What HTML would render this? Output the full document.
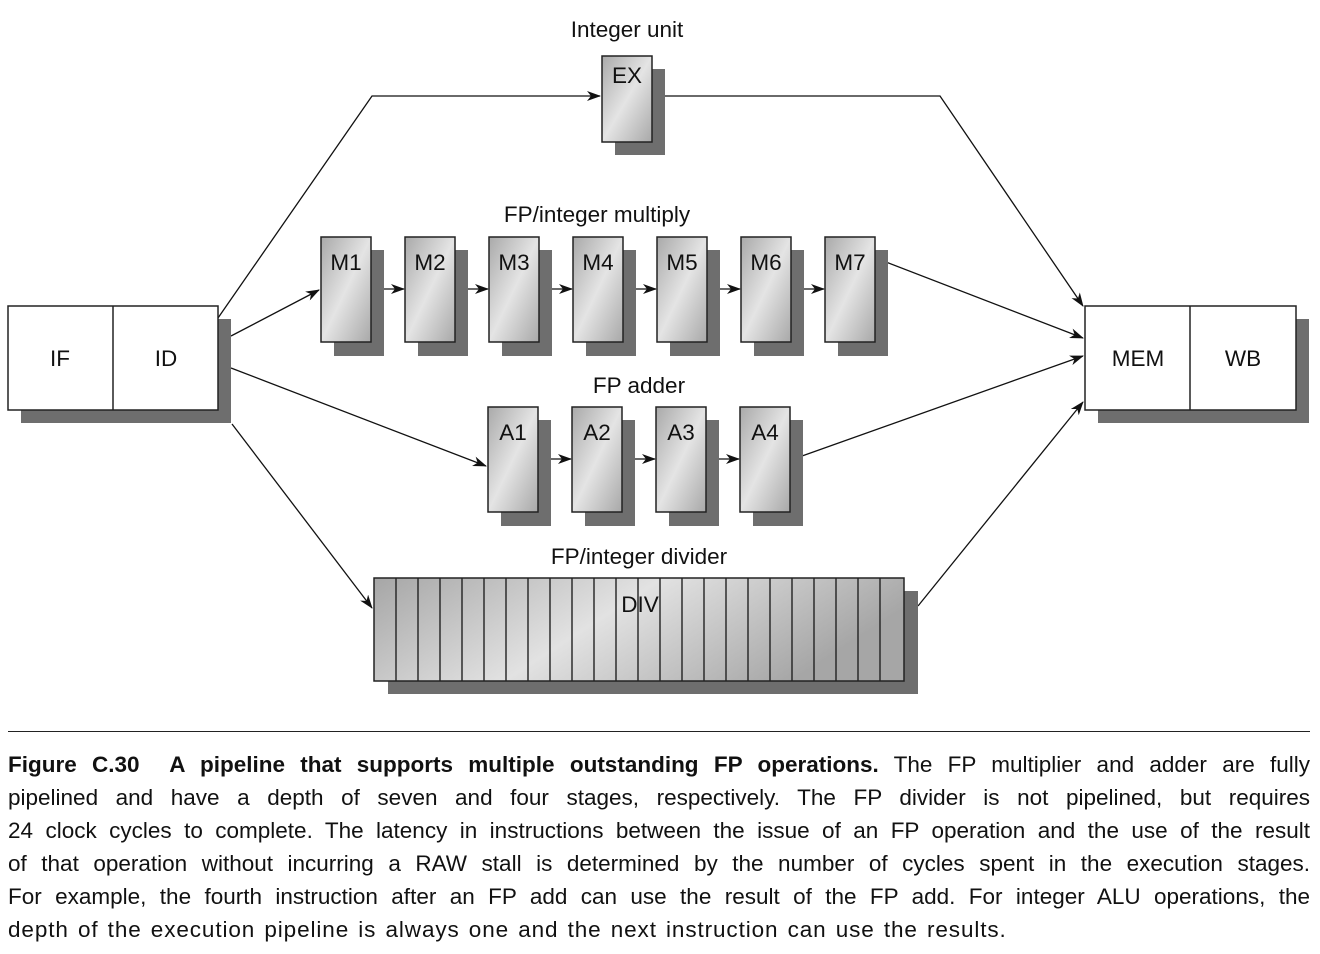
<!DOCTYPE html>
<html><head><meta charset="utf-8"><style>
body{margin:0;width:1320px;height:954px;background:#fff;overflow:hidden;position:relative;font-family:"Liberation Sans",sans-serif}
.cap{position:absolute;left:8px;width:1302px;font-size:22.5px;line-height:33px;color:#111}
.cap div{text-align:justify;text-align-last:justify;height:33px;white-space:nowrap;overflow:visible}
.cap div.l{text-align-last:left;letter-spacing:0.9px;word-spacing:2px}
</style></head><body>
<svg width="1320" height="730" style="position:absolute;left:0;top:0" font-family="Liberation Sans, sans-serif">
<defs>
<linearGradient id="g" x1="0" y1="0" x2="1" y2="1"><stop offset="0" stop-color="#a9a9a9"/><stop offset="0.5" stop-color="#e4e4e4"/><stop offset="1" stop-color="#a8a8a8"/></linearGradient>
<linearGradient id="gd" x1="0" y1="0" x2="1" y2="0.3"><stop offset="0" stop-color="#a6a6a6"/><stop offset="0.5" stop-color="#e2e2e2"/><stop offset="1" stop-color="#a6a6a6"/></linearGradient>
<marker id="a" markerWidth="14" markerHeight="10" refX="13" refY="5" orient="auto" markerUnits="userSpaceOnUse"><path d="M0,0 L14,5 L0,10 L4,5z" fill="#111"/></marker>
</defs>
<g stroke="#111" stroke-width="1.3" fill="none">
<polyline points="218,318 372,96 600,96" marker-end="url(#a)"/>
<polyline points="652,96 940,96 1083,306" marker-end="url(#a)"/>
<line x1="231" y1="336" x2="319" y2="290" marker-end="url(#a)"/>
<line x1="886" y1="262" x2="1083" y2="338" marker-end="url(#a)"/>
<line x1="231" y1="368" x2="486" y2="466" marker-end="url(#a)"/>
<line x1="802" y1="456" x2="1083" y2="356" marker-end="url(#a)"/>
<line x1="232" y1="424" x2="372" y2="608" marker-end="url(#a)"/>
<line x1="918" y1="606" x2="1083" y2="402" marker-end="url(#a)"/>
<g marker-end="url(#a)">
<line x1="371" y1="289" x2="404" y2="289"/><line x1="455" y1="289" x2="488" y2="289"/><line x1="539" y1="289" x2="572" y2="289"/><line x1="623" y1="289" x2="656" y2="289"/><line x1="707" y1="289" x2="740" y2="289"/><line x1="791" y1="289" x2="824" y2="289"/>
<line x1="538" y1="459" x2="571" y2="459"/><line x1="622" y1="459" x2="655" y2="459"/><line x1="706" y1="459" x2="739" y2="459"/>
</g></g>
<g font-size="22.5" fill="#111" text-anchor="middle">
<text x="627" y="37">Integer unit</text>
<text x="597" y="222">FP/integer multiply</text>
<text x="639" y="393">FP adder</text>
<text x="639" y="564">FP/integer divider</text>
</g>
<rect x="615" y="69" width="50" height="86" fill="#6e6e6e"/>
<rect x="602" y="56" width="50" height="86" fill="url(#g)" stroke="#222" stroke-width="1.5"/>
<text x="627" y="83" font-size="22.5" text-anchor="middle" fill="#111">EX</text>
<g font-size="22.5" text-anchor="middle" fill="#111">
<g id="m">
<rect x="334" y="250" width="50" height="106" fill="#6e6e6e"/>
<rect x="321" y="237" width="50" height="105" fill="url(#g)" stroke="#222" stroke-width="1.5"/>
</g>
<use href="#m" x="84"/><use href="#m" x="168"/><use href="#m" x="252"/><use href="#m" x="336"/><use href="#m" x="420"/><use href="#m" x="504"/>
<text x="346" y="270">M1</text><text x="430" y="270">M2</text><text x="514" y="270">M3</text><text x="598" y="270">M4</text><text x="682" y="270">M5</text><text x="766" y="270">M6</text><text x="850" y="270">M7</text>
<use href="#m" x="167" y="170"/><use href="#m" x="251" y="170"/><use href="#m" x="335" y="170"/><use href="#m" x="419" y="170"/>
<text x="513" y="440">A1</text><text x="597" y="440">A2</text><text x="681" y="440">A3</text><text x="765" y="440">A4</text>
</g>
<rect x="21" y="319" width="210" height="104" fill="#6e6e6e"/>
<rect x="8" y="306" width="210" height="104" fill="#fff" stroke="#222" stroke-width="1.5"/>
<line x1="113" y1="306" x2="113" y2="410" stroke="#222" stroke-width="1.5"/>
<rect x="1098" y="319" width="211" height="104" fill="#6e6e6e"/>
<rect x="1085" y="306" width="211" height="104" fill="#fff" stroke="#222" stroke-width="1.5"/>
<line x1="1190" y1="306" x2="1190" y2="410" stroke="#222" stroke-width="1.5"/>
<g font-size="22.5" text-anchor="middle" fill="#111">
<text x="60" y="366">IF</text><text x="166" y="366">ID</text><text x="1138" y="366">MEM</text><text x="1243" y="366">WB</text>
</g>
<rect x="388" y="591" width="530" height="103" fill="#6e6e6e"/>
<rect x="374" y="578" width="530" height="103" fill="url(#gd)" stroke="#222" stroke-width="1.5"/>
<path stroke="#222" stroke-width="1.4" d="M396,578v103M418,578v103M440,578v103M462,578v103M484,578v103M506,578v103M528,578v103M550,578v103M572,578v103M594,578v103M616,578v103M638,578v103M660,578v103M682,578v103M704,578v103M726,578v103M748,578v103M770,578v103M792,578v103M814,578v103M836,578v103M858,578v103M880,578v103"/>
<text x="640" y="612" font-size="22.5" text-anchor="middle" fill="#111">DIV</text>
</svg>
<div style="position:absolute;left:8px;top:731px;width:1302px;height:1px;background:#222"></div>
<div class="cap" style="top:748px">
<div><b>Figure C.30&nbsp; A pipeline that supports multiple outstanding FP operations.</b> The FP multiplier and adder are fully</div>
<div>pipelined and have a depth of seven and four stages, respectively. The FP divider is not pipelined, but requires</div>
<div>24 clock cycles to complete. The latency in instructions between the issue of an FP operation and the use of the result</div>
<div>of that operation without incurring a RAW stall is determined by the number of cycles spent in the execution stages.</div>
<div>For example, the fourth instruction after an FP add can use the result of the FP add. For integer ALU operations, the</div>
<div class="l">depth of the execution pipeline is always one and the next instruction can use the results.</div>
</div>
</body></html>
